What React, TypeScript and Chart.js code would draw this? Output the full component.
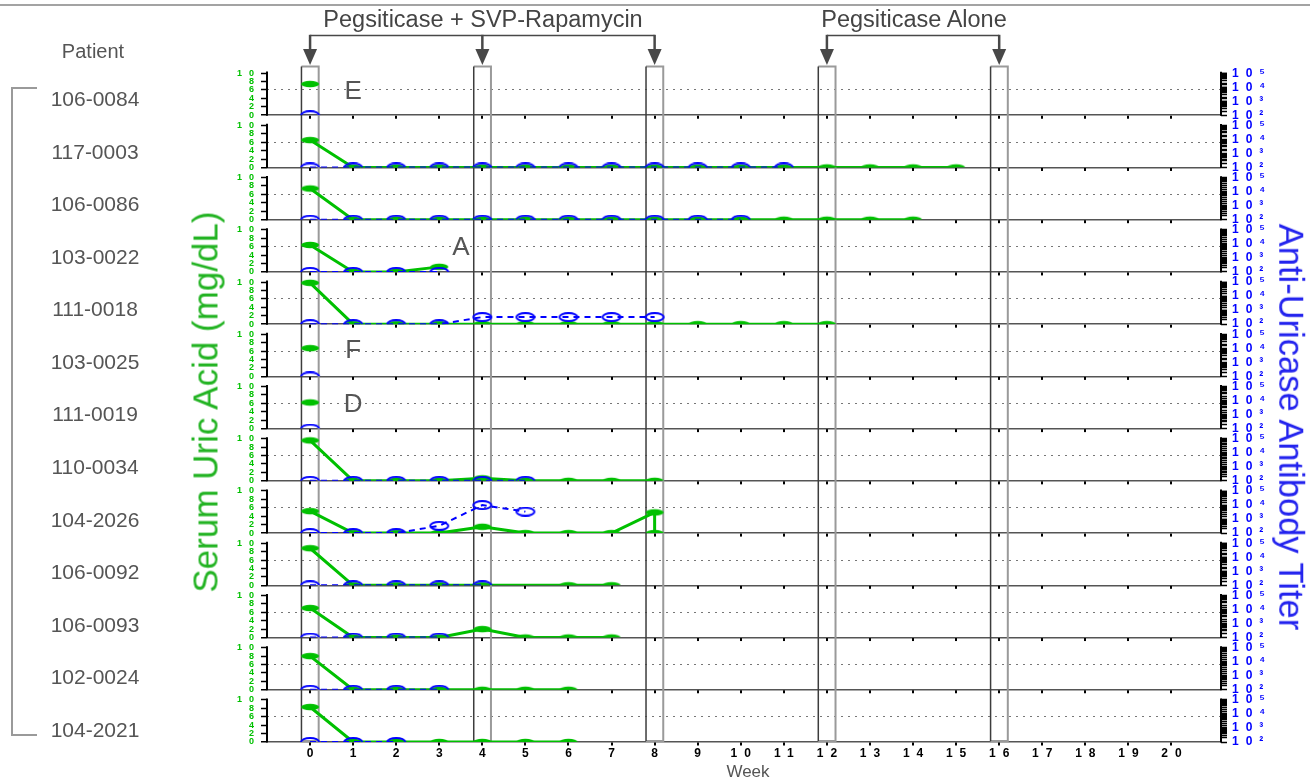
import React, { useEffect, useRef } from 'react';
import { Chart, registerables } from 'chart.js';

Chart.register(...registerables);

// Patients, top to bottom
const patients = [
  '106-0084', '117-0003', '106-0086', '103-0022', '111-0018', '103-0025', '111-0019',
  '110-0034', '104-2026', '106-0092', '106-0093', '102-0024', '104-2021',
];

// Serum uric acid (mg/dL) as [week, value]
const uric_106_0084 = [[0, 7.4]];
const uric_117_0003 = [[0, 6.5], [1, 0], [2, 0], [3, 0], [4, 0], [5, 0], [6, 0], [7, 0], [8, 0], [9, 0], [10, 0], [11, 0], [12, 0], [13, 0], [14, 0], [15, 0]];
const uric_106_0086 = [[0, 7.4], [1, 0], [2, 0], [3, 0], [4, 0], [5, 0], [6, 0], [7, 0], [8, 0], [9, 0], [10, 0], [11, 0], [12, 0], [13, 0], [14, 0]];
const uric_103_0022 = [[0, 6.4], [1, 0], [2, 0], [3, 1.2]];
const uric_111_0018 = [[0, 9.8], [1, 0], [2, 0], [3, 0], [4, 0], [5, 0], [6, 0], [7, 0], [8, 0], [9, 0], [10, 0], [11, 0], [12, 0]];
const uric_103_0025 = [[0, 6.7]];
const uric_111_0019 = [[0, 6.2]];
const uric_110_0034 = [[0, 9.6], [1, 0], [2, 0], [3, 0], [4, 0.6], [5, 0], [6, 0], [7, 0], [8, 0]];
const uric_104_2026 = [[0, 5.2], [1, 0], [2, 0], [3, 0], [4, 1.5], [5, 0], [6, 0], [7, 0], [8, 4.9], [8, 0]];
const uric_106_0092 = [[0, 8.8], [1, 0], [2, 0], [3, 0], [4, 0], [6, 0], [7, 0]];
const uric_106_0093 = [[0, 7.0], [1, 0], [2, 0], [3, 0], [4, 2.0], [5, 0], [6, 0], [7, 0]];
const uric_102_0024 = [[0, 8.0], [1, 0], [2, 0], [3, 0], [4, 0], [5, 0], [6, 0]];
const uric_104_2021 = [[0, 8.3], [1, 0], [2, 0], [3, 0], [4, 0], [5, 0], [6, 0]];

// Anti-uricase antibody titer as [week, titer]; 100 sits on the panel baseline
const titer_106_0084 = [[0, 100]];
const titer_117_0003 = [[0, 100], [1, 100], [2, 100], [3, 100], [4, 100], [5, 100], [6, 100], [7, 100], [8, 100], [9, 100], [10, 100], [11, 100]];
const titer_106_0086 = [[0, 100], [1, 100], [2, 100], [3, 100], [4, 100], [5, 100], [6, 100], [7, 100], [8, 100], [9, 100], [10, 100]];
const titer_103_0022 = [[0, 100], [1, 100], [2, 100], [3, 100]];
const titer_111_0018 = [[0, 100], [1, 100], [2, 100], [3, 100], [4, 320], [5, 320], [6, 320], [7, 320], [8, 320]];
const titer_103_0025 = [[0, 100]];
const titer_111_0019 = [[0, 100]];
const titer_110_0034 = [[0, 100], [1, 100], [2, 100], [3, 100], [4, 100], [5, 100]];
const titer_104_2026 = [[0, 100], [1, 100], [2, 100], [3, 330], [4, 10000], [5, 3400]];
const titer_106_0092 = [[0, 100], [1, 100], [2, 100], [3, 100], [4, 100]];
const titer_106_0093 = [[0, 100], [1, 100], [2, 100], [3, 100]];
const titer_102_0024 = [[0, 100], [1, 100], [2, 100], [3, 100]];
const titer_104_2021 = [[0, 100], [1, 100], [2, 100]];

const uricSeries = [
  uric_106_0084, uric_117_0003, uric_106_0086, uric_103_0022, uric_111_0018, uric_103_0025, uric_111_0019,
  uric_110_0034, uric_104_2026, uric_106_0092, uric_106_0093, uric_102_0024, uric_104_2021,
];
const titerSeries = [
  titer_106_0084, titer_117_0003, titer_106_0086, titer_103_0022, titer_111_0018, titer_103_0025, titer_111_0019,
  titer_110_0034, titer_104_2026, titer_106_0092, titer_106_0093, titer_102_0024, titer_104_2021,
];

// Axis ticks
const weekTicks = [0, 1, 2, 3, 4, 5, 6, 7, 8, 9, 10, 11, 12, 13, 14, 15, 16, 17, 18, 19, 20];
const uricTicks = [0, 2, 4, 6, 8, 10];
const titerDecades = [100, 1000, 10000, 100000];
const titerDecadeLabels = ['10²', '10³', '10⁴', '10⁵'];

// Dosing weeks
const doseWeeksCombo = [0, 4, 8];
const doseWeeksAlone = [12, 16];

// Panel letters: [letter, week, uric value, panel index]
const panelLetters: [string, number, number, number][] = [
  ['E', 1, 6.0, 0],
  ['A', 3.5, 6.2, 3],
  ['F', 1, 6.6, 5],
  ['D', 1, 6.2, 6],
];

const GREEN = '#00c000';
const BLUE = '#0000ff';
const FONT = "'Liberation Sans', Arial, Helvetica, sans-serif";
const SPACING = 7;

function makeMarker(color: string, filled: boolean, half: boolean) {
  const c = document.createElement('canvas');
  c.width = 22;
  c.height = 10;
  const g = c.getContext('2d')!;
  g.save();
  if (half) {
    g.beginPath();
    g.rect(0, 0, 22, 5);
    g.clip();
  }
  g.beginPath();
  if (filled) {
    g.ellipse(11, 5, 9, 3.2, 0, 0, Math.PI * 2);
    g.fillStyle = color;
    g.fill();
  } else {
    g.ellipse(11, 5, 9, 4, 0, 0, Math.PI * 2);
    g.strokeStyle = color;
    g.lineWidth = 2;
    g.stroke();
  }
  g.restore();
  return c;
}

const spacedText = {
  id: 'spacedText',
  beforeDraw(chart: any) {
    chart.ctx.letterSpacing = SPACING + 'px';
  },
  afterDraw(chart: any) {
    chart.ctx.letterSpacing = '0px';
  },
};

const panelFrames = {
  id: 'panelFrames',
  beforeDatasetsDraw(chart: any) {
    const { ctx, chartArea: area } = chart;
    const x = chart.scales.x;
    ctx.save();
    // dosing windows
    for (const w of [...doseWeeksCombo, ...doseWeeksAlone]) {
      const l = x.getPixelForValue(w - 0.2);
      const r = x.getPixelForValue(w + 0.2);
      const t = area.top + 3.5;
      const b = area.bottom - 1;
      ctx.strokeStyle = '#9a9a9a';
      ctx.lineWidth = 2;
      ctx.beginPath();
      ctx.moveTo(l, t);
      ctx.lineTo(r, t);
      ctx.lineTo(r, b);
      ctx.lineTo(l, b);
      ctx.stroke();
      ctx.strokeStyle = '#3c3c3c';
      ctx.lineWidth = 1.5;
      ctx.beginPath();
      ctx.moveTo(l, t);
      ctx.lineTo(l, b);
      ctx.stroke();
    }
    // per-panel axis lines and week tick marks
    patients.forEach((_, i) => {
      const u = chart.scales['u' + i];
      const tz = chart.scales['t' + i];
      const y0 = u.getPixelForValue(0);
      ctx.fillStyle = '#000';
      for (const w of weekTicks) {
        const px = x.getPixelForValue(w);
        ctx.fillRect(Math.round(px) - 1, y0 + 0.5, 2, 3);
      }
      ctx.strokeStyle = '#000';
      ctx.lineWidth = 2;
      ctx.beginPath();
      ctx.moveTo(area.left, y0 + 0.5);
      ctx.lineTo(area.left, u.getPixelForValue(10) - 1.5);
      ctx.stroke();
      ctx.beginPath();
      ctx.moveTo(area.right, tz.getPixelForValue(100) + 0.5);
      ctx.lineTo(area.right, tz.getPixelForValue(100000) - 1.5);
      ctx.stroke();
    });
    ctx.restore();
  },
};

const doseArrows = {
  id: 'doseArrows',
  afterDraw(chart: any) {
    const { ctx } = chart;
    const x = chart.scales.x;
    const bracketY = 35.5;
    ctx.save();
    ctx.strokeStyle = '#484848';
    ctx.fillStyle = '#484848';
    for (const group of [doseWeeksCombo, doseWeeksAlone]) {
      const xs = group.map((w) => x.getPixelForValue(w));
      ctx.lineWidth = 1.5;
      ctx.beginPath();
      ctx.moveTo(xs[0], bracketY);
      ctx.lineTo(xs[xs.length - 1], bracketY);
      ctx.stroke();
      for (const px of xs) {
        ctx.lineWidth = 2.5;
        ctx.beginPath();
        ctx.moveTo(px, bracketY - 0.7);
        ctx.lineTo(px, 52);
        ctx.stroke();
        ctx.beginPath();
        ctx.moveTo(px - 7, 49);
        ctx.lineTo(px + 7, 49);
        ctx.lineTo(px, 65);
        ctx.closePath();
        ctx.fill();
      }
    }
    ctx.restore();
  },
};

function buildScales() {
  const scales: any = {
    x: {
      type: 'linear',
      position: 'bottom',
      min: -1,
      max: 21.15,
      grid: { display: false, drawTicks: false },
      border: { display: false },
      afterBuildTicks: (s: any) => {
        s.ticks = weekTicks.map((v) => ({ value: v }));
      },
      afterFit: (s: any) => {
        s.height = 24;
      },
      ticks: {
        autoSkip: false,
        maxRotation: 0,
        padding: 4,
        labelOffset: SPACING / 2,
        color: '#000',
        font: { family: FONT, size: 12, weight: 'bold' },
        callback: (v: number) => String(v),
      },
    },
  };
  // left stack is laid out in reverse definition order, so define bottom panel first
  for (let i = patients.length - 1; i >= 0; i--) {
    scales['u' + i] = {
      type: 'linear',
      position: 'left',
      stack: 'panels',
      stackWeight: 1,
      min: 0,
      max: 12.4,
      afterBuildTicks: (s: any) => {
        s.ticks = uricTicks.map((v) => ({ value: v }));
      },
      afterFit: (s: any) => {
        s.width = 40;
      },
      grid: {
        drawOnChartArea: true,
        color: (c: any) => (c.tick && c.tick.value === 0 ? '#555' : c.tick && c.tick.value === 6 ? '#777' : 'rgba(0,0,0,0)'),
        lineWidth: (c: any) => (c.tick && c.tick.value === 0 ? 1.5 : 1),
        tickColor: '#000',
        tickLength: 6,
        tickWidth: 1.5,
      },
      border: { display: false, dash: (c: any) => (c.tick && c.tick.value === 6 ? [2, 5] : []) },
      ticks: {
        autoSkip: false,
        padding: 0,
        color: GREEN,
        font: { family: FONT, size: 9, weight: 'bold' },
        callback: (v: number) => String(v),
      },
    };
  }
  for (let i = 0; i < patients.length; i++) {
    scales['t' + i] = {
      type: 'logarithmic',
      position: 'right',
      stack: 'panels',
      stackWeight: 1,
      min: 100,
      max: 537000,
      afterBuildTicks: (s: any) => {
        s.ticks = s.ticks.filter((t: any) => t.value <= 100001);
      },
      afterFit: (s: any) => {
        s.width = 50;
      },
      grid: { drawOnChartArea: false, tickColor: '#000', tickLength: 6, tickWidth: 1.5 },
      border: { display: false },
      ticks: {
        autoSkip: false,
        padding: 5,
        color: BLUE,
        font: { family: FONT, size: 12, weight: 'bold' },
        callback: (v: number) => {
          const k = titerDecades.indexOf(Math.round(v));
          return k >= 0 ? titerDecadeLabels[k] : '';
        },
      },
    };
  }
  return scales;
}

function buildDatasets() {
  const greenFull = makeMarker(GREEN, true, false);
  const greenHalf = makeMarker(GREEN, true, true);
  const blueFull = makeMarker(BLUE, false, false);
  const blueHalf = makeMarker(BLUE, false, true);
  const sets: any[] = [];
  patients.forEach((p, i) => {
    sets.push({
      label: p + ' uric acid',
      data: uricSeries[i].map(([x, y]) => ({ x, y })),
      xAxisID: 'x',
      yAxisID: 'u' + i,
      borderColor: GREEN,
      backgroundColor: GREEN,
      borderWidth: 3,
      pointRadius: 4,
      pointStyle: (c: any) => (c.raw && c.raw.y === 0 ? greenHalf : greenFull),
      order: 1,
    });
    sets.push({
      label: p + ' titer',
      data: titerSeries[i].map(([x, y]) => ({ x, y })),
      xAxisID: 'x',
      yAxisID: 't' + i,
      borderColor: BLUE,
      backgroundColor: BLUE,
      borderWidth: 2,
      borderDash: [6, 5],
      pointRadius: 4,
      pointStyle: (c: any) => (c.raw && c.raw.y <= 100 ? blueHalf : blueFull),
      order: 0,
    });
  });
  return sets;
}

const abs = (x: number, y: number, extra: React.CSSProperties = {}): React.CSSProperties => ({
  position: 'absolute',
  left: x,
  top: y,
  transform: 'translate(-50%, -50%)',
  whiteSpace: 'nowrap',
  lineHeight: 1,
  fontFamily: FONT,
  ...extra,
});

export default function App() {
  const ref = useRef<HTMLCanvasElement>(null);
  const [letterPos, setLetterPos] = React.useState<{ t: string; x: number; y: number }[]>([]);

  useEffect(() => {
    const canvas = ref.current;
    if (!canvas) return;
    const chart = new Chart(canvas, {
      type: 'line',
      data: { datasets: buildDatasets() },
      options: {
        responsive: false,
        animation: false,
        events: [],
        layout: { padding: { left: 227, right: 39, top: 63, bottom: 15 } },
        plugins: { legend: { display: false }, tooltip: { enabled: false } },
        scales: buildScales(),
      },
      plugins: [spacedText, panelFrames, doseArrows],
    } as any);
    const x = chart.scales.x;
    setLetterPos(
      panelLetters.map(([t, w, v, i]) => ({
        t,
        x: x.getPixelForValue(w),
        y: chart.scales['u' + i].getPixelForValue(v),
      })),
    );
    return () => chart.destroy();
  }, []);

  return (
    <div style={{ position: 'absolute', left: 0, top: 0, width: 1310, height: 781, overflow: 'hidden', background: '#fff' }}>
      <canvas ref={ref} width={1310} height={781} style={{ position: 'absolute', left: 0, top: 0, width: 1310, height: 781 }} />
      <div style={{ position: 'absolute', left: 0, top: 4, width: 1310, height: 2, background: '#a3a3a3' }} />
      <div
        style={{
          position: 'absolute',
          left: 11,
          top: 87,
          width: 24,
          height: 645,
          borderLeft: '2px solid #9a9a9a',
          borderTop: '2px solid #9a9a9a',
          borderBottom: '2px solid #9a9a9a',
        }}
      />
      <div style={abs(93, 51, { fontSize: 20, color: '#555' })}>Patient</div>
      {patients.map((p, i) => (
        <div key={p} style={abs(95, 98 + i * 52.58, { fontSize: 21, color: '#555' })}>
          {p}
        </div>
      ))}
      <div style={abs(483, 20, { fontSize: 23.5, color: '#444' })}>Pegsiticase + SVP-Rapamycin</div>
      <div style={abs(914, 20, { fontSize: 23.5, color: '#444' })}>Pegsiticase Alone</div>
      {letterPos.map((l) => (
        <div key={l.t} style={abs(l.x, l.y, { fontSize: 26, color: '#555' })}>
          {l.t}
        </div>
      ))}
      <div style={abs(748, 771, { fontSize: 17, color: '#555' })}>Week</div>
      <div style={abs(205, 402, { fontSize: 35, color: '#22b322', transform: 'translate(-50%, -50%) rotate(-90deg)' })}>
        Serum Uric Acid (mg/dL)
      </div>
      <div style={abs(1291, 427, { fontSize: 34.5, color: '#2222ee', transform: 'translate(-50%, -50%) rotate(90deg)' })}>
        Anti-Uricase Antibody Titer
      </div>
    </div>
  );
}
